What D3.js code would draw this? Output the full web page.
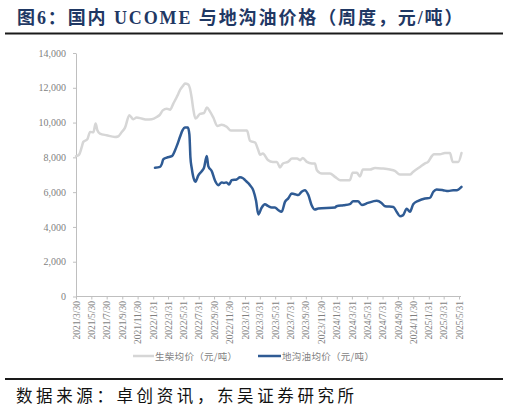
<!DOCTYPE html>
<html>
<head>
<meta charset="utf-8">
<script src="https://cdn.jsdelivr.net/npm/d3@7"></script>
<style>
  html, body { margin: 0; padding: 0; background: #fff; }
  svg { display: block; }
</style>
</head>
<body>
<svg id="chart" width="509" height="413"></svg>
<script>
// ---- Data ----
const tickLabels = ["2021/3/30","2021/5/30","2021/7/30","2021/9/30","2021/11/30",
  "2022/1/31","2022/3/31","2022/5/31","2022/7/31","2022/9/30","2022/11/30",
  "2023/1/31","2023/3/31","2023/5/31","2023/7/31","2023/9/30","2023/11/30",
  "2024/1/31","2024/3/31","2024/5/31","2024/7/31","2024/9/30","2024/11/30",
  "2025/1/31","2025/3/31","2025/5/31"];
const yTicks = [0, 2000, 4000, 6000, 8000, 10000, 12000, 14000];

// 生柴均价 (UCOME)
const dieselDates = ["2021-03-30","2021-04-11","2021-04-22","2021-04-28","2021-05-14","2021-05-25",
  "2021-06-07","2021-06-16","2021-06-23","2021-07-03","2021-07-30","2021-09-01","2021-09-13",
  "2021-09-28","2021-10-11","2021-10-28","2021-11-13","2021-11-26","2021-12-16","2022-01-05",
  "2022-01-25","2022-02-14","2022-02-27","2022-03-10","2022-03-26","2022-04-08","2022-04-21",
  "2022-05-11","2022-05-18","2022-05-31","2022-06-06","2022-06-20","2022-07-03","2022-07-09",
  "2022-07-18","2022-08-05","2022-08-21","2022-09-01","2022-09-14","2022-09-27","2022-10-13",
  "2022-10-30","2022-11-19","2022-12-06","2023-01-11","2023-02-08","2023-02-20","2023-03-12",
  "2023-03-24","2023-04-01","2023-04-12","2023-05-02","2023-05-22","2023-06-07","2023-06-19",
  "2023-07-01","2023-07-21","2023-08-06","2023-08-26","2023-09-07","2023-09-18","2023-10-04",
  "2023-10-24","2023-11-05","2023-11-13","2023-12-03","2024-01-04","2024-01-24","2024-02-13",
  "2024-03-23","2024-04-03","2024-04-20","2024-05-02","2024-05-14","2024-06-11","2024-07-01",
  "2024-07-29","2024-08-29","2024-09-18","2024-10-08","2024-11-17","2024-11-29","2024-12-27",
  "2025-01-16","2025-01-28","2025-02-12","2025-02-20","2025-03-16","2025-04-05","2025-04-25",
  "2025-05-06","2025-05-28","2025-06-10"];
const dieselValues = [8070,8150,8600,8890,9040,9460,
  9440,9940,9560,9370,9270,9170,9200,
  9460,9710,10420,10190,10290,10230,10170,
  10190,10320,10460,10700,10800,10740,11090,
  11660,11890,12140,12240,12180,11430,10800,
  10230,10500,10550,10860,10630,10290,9800,
  9880,9760,9540,9540,9540,8950,8850,
  8450,8150,8220,7850,7740,7740,7420,
  7650,7740,7930,7930,7840,7970,7740,
  7650,7650,7260,7070,7070,6880,6690,
  6690,7110,7110,6900,7300,7300,7390,
  7360,7300,7220,7010,7010,7160,7450,
  7650,7740,8070,8180,8180,8250,8250,
  7740,7740,8250];

// 地沟油均价
const uco_dates = ["2022-02-07","2022-02-27","2022-03-06","2022-03-12","2022-03-26","2022-04-15",
  "2022-04-28","2022-05-06","2022-05-18","2022-05-28","2022-06-06","2022-06-18","2022-06-24",
  "2022-06-28","2022-07-03","2022-07-09","2022-07-18","2022-07-29","2022-08-12","2022-08-21",
  "2022-09-01","2022-09-07","2022-09-21","2022-10-04","2022-10-17","2022-10-30","2022-11-08",
  "2022-11-19","2022-11-29","2022-12-09","2022-12-29","2023-01-11","2023-01-23","2023-01-31",
  "2023-02-20","2023-03-05","2023-03-16","2023-03-25","2023-04-07","2023-04-20","2023-05-04",
  "2023-05-17","2023-05-30","2023-06-12","2023-06-26","2023-07-09","2023-07-22","2023-08-05",
  "2023-08-18","2023-08-31","2023-09-13","2023-09-26","2023-10-10","2023-10-23","2023-11-05",
  "2023-11-18","2024-01-24","2024-01-30","2024-02-26","2024-03-23","2024-04-05","2024-04-24",
  "2024-05-10","2024-06-03","2024-07-08","2024-07-27","2024-08-10","2024-09-12","2024-09-25",
  "2024-10-08","2024-10-21","2024-11-04","2024-11-17","2024-11-30","2024-12-20","2025-01-16",
  "2025-02-04","2025-02-18","2025-03-03","2025-03-29","2025-04-18","2025-05-08","2025-05-22",
  "2025-06-10"];
const ucoValues = [7400,7450,7610,7880,7990,8070,
  8410,8700,9200,9560,9710,9710,9300,
  8000,7400,6900,6600,6950,7200,7400,
  8080,7500,7200,6650,6400,6560,6530,
  6560,6440,6690,6730,6850,6800,6690,
  6400,6100,5500,4720,5100,5300,5190,
  5120,5120,4970,4870,5440,5640,5920,
  5880,5830,6020,6110,5830,5250,5000,
  5060,5120,5190,5250,5310,5480,5480,
  5260,5380,5500,5380,5190,5150,4870,
  4620,4680,5050,4870,5310,5500,5640,
  5670,6020,6150,6110,6060,6110,6110,
  6300];

const seriesNames = ["生柴均价（元/吨）", "地沟油均价（元/吨）"];
const titleText = "图6：国内 UCOME 与地沟油价格（周度，元/吨）";
const sourceText = "数据来源：卓创资讯，东吴证券研究所";

// ---- Drawing ----
const svg = d3.select("#chart");
const parseTick = d3.timeParse("%Y/%m/%d");
const parseDate = d3.timeParse("%Y-%m-%d");
const tickDates = tickLabels.map(parseTick);

const x = d3.scaleTime()
  .domain([tickDates[0], tickDates[tickDates.length - 1]])
  .range([76, 459]);
const y = d3.scaleLinear().domain([0, 14000]).range([296.5, 53]);

const serifNum = "'Liberation Serif', 'Times New Roman', serif";
const cjk = "'Noto Sans CJK SC', 'Noto Sans', sans-serif";

// Title
svg.append("text")
  .attr("x", 17).attr("y", 23.5)
  .attr("font-family", "'Liberation Serif', 'Noto Sans CJK SC', serif")
  .attr("font-weight", "bold")
  .attr("font-size", 18)
  .attr("letter-spacing", 1.9)
  .attr("fill", "#1f3864")
  .text(titleText);
svg.append("line").attr("x1", 5).attr("x2", 503).attr("y1", 33.5).attr("y2", 33.5)
  .attr("stroke", "#1a1a1a").attr("stroke-width", 2);

// Y axis
const yAxis = svg.append("g").attr("transform", "translate(76,0)")
  .call(d3.axisLeft(y).tickValues(yTicks).tickFormat(d3.format(",")).tickSize(3).tickSizeOuter(0));
yAxis.select(".domain").attr("stroke", "#bfbfbf");
yAxis.selectAll(".tick line").attr("stroke", "#bfbfbf");
yAxis.selectAll(".tick text")
  .attr("x", -10)
  .attr("font-family", serifNum).attr("font-size", 10).attr("fill", "#7f7f7f");

// X axis
const fmtTick = (d) => tickLabels[tickDates.findIndex(t => +t === +d)];
const xAxis = svg.append("g").attr("transform", "translate(0,296.5)")
  .call(d3.axisBottom(x).tickValues(tickDates).tickFormat(fmtTick).tickSize(3).tickSizeOuter(0));
xAxis.select(".domain").attr("stroke", "#bfbfbf").attr("d", "M76,0H461");
xAxis.selectAll(".tick line").attr("stroke", "#bfbfbf");
xAxis.selectAll(".tick text")
  .attr("transform", "rotate(-90)")
  .attr("text-anchor", "end")
  .attr("x", -4.5).attr("y", 0).attr("dy", "0.33em")
  .attr("font-family", serifNum).attr("font-size", 9.5).attr("fill", "#7f7f7f");

// Lines
const dieselData = dieselDates.map((d, i) => ({ date: parseDate(d), value: dieselValues[i] }));
const ucoData = uco_dates.map((d, i) => ({ date: parseDate(d), value: ucoValues[i] }));
const line = d3.line().x(d => x(d.date)).y(d => y(d.value)).curve(d3.curveMonotoneX);

svg.append("path").datum(dieselData).attr("d", line)
  .attr("fill", "none").attr("stroke", "#d6d6d6").attr("stroke-width", 2.5)
  .attr("stroke-linejoin", "round").attr("stroke-linecap", "round");
svg.append("path").datum(ucoData).attr("d", line)
  .attr("fill", "none").attr("stroke", "#2f5b94").attr("stroke-width", 2.5)
  .attr("stroke-linejoin", "round").attr("stroke-linecap", "round");

// Legend
const legend = svg.append("g");
legend.append("line").attr("x1", 133).attr("x2", 154).attr("y1", 356).attr("y2", 356)
  .attr("stroke", "#d6d6d6").attr("stroke-width", 2.5);
legend.append("text").attr("x", 155).attr("y", 359.5)
  .attr("font-family", cjk).attr("font-size", 9.5).attr("letter-spacing", 0.3).attr("fill", "#7f7f7f")
  .text(seriesNames[0]);
legend.append("line").attr("x1", 258).attr("x2", 281).attr("y1", 356).attr("y2", 356)
  .attr("stroke", "#2f5b94").attr("stroke-width", 2.5);
legend.append("text").attr("x", 282).attr("y", 359.5)
  .attr("font-family", cjk).attr("font-size", 9.5).attr("letter-spacing", 0.3).attr("fill", "#7f7f7f")
  .text(seriesNames[1]);

// Source
svg.append("line").attr("x1", 5).attr("x2", 503).attr("y1", 379).attr("y2", 379)
  .attr("stroke", "#1a1a1a").attr("stroke-width", 2);
svg.append("text").attr("x", 16).attr("y", 402)
  .attr("font-family", cjk).attr("font-size", 16.5).attr("letter-spacing", 3.6).attr("fill", "#111")
  .text(sourceText);
</script>
</body>
</html>
